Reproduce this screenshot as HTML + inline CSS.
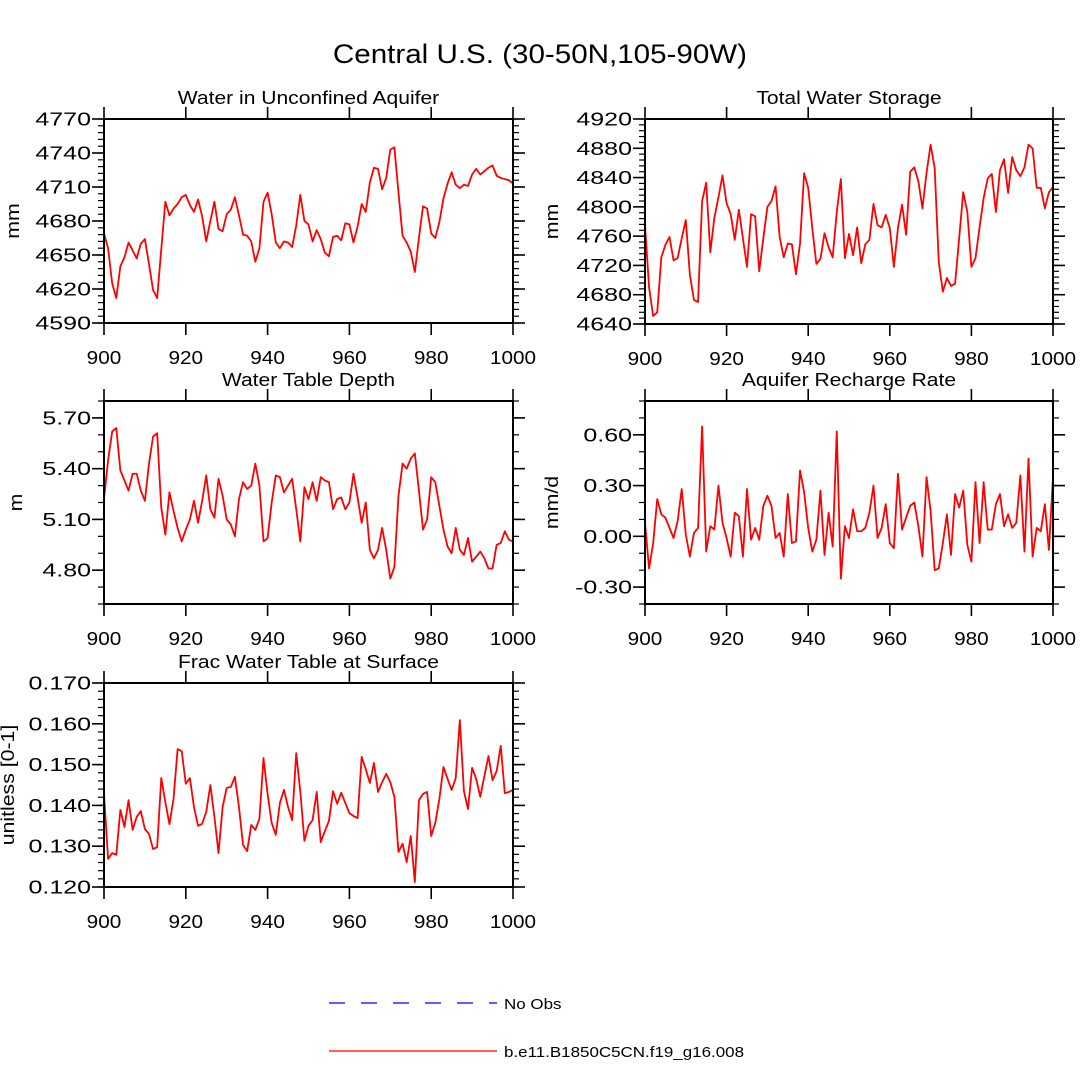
<!DOCTYPE html>
<html><head><meta charset="utf-8"><style>
html,body{margin:0;padding:0;background:#fff;}
svg{display:block;font-family:"Liberation Sans",sans-serif;}
</style></head><body>
<svg id="chart" width="1080" height="1082" viewBox="0 0 1080 1082" xmlns="http://www.w3.org/2000/svg">
<rect width="1080" height="1082" fill="#fff"/>
<text id="ftitle" x="540" y="63" font-size="27" text-anchor="middle">Central U.S. (30-50N,105-90W)</text>
<g id="panels"></g>
<g>
<line x1="329" y1="1003" x2="497" y2="1003" stroke="#0000ff" stroke-width="1.2" stroke-dasharray="16,16"/>
<text class="leg" x="504" y="1009" font-size="15">No Obs</text>
<line x1="329" y1="1051" x2="497" y2="1051" stroke="#ff0000" stroke-width="1.2"/>
<text class="leg" x="504" y="1057" font-size="15">b.e11.B1850C5CN.f19_g16.008</text>
</g>
</svg>
<script>
const years = [];
for (let y = 900; y <= 1000; y++) years.push(y);
const xTicks = [900, 920, 940, 960, 980, 1000];

const aquiferValues = [4669,4656,4625,4612,4640,4648,4661,4654,4647,4660,4664,4642,4619,4612,4655,4697,4685,4691,4695,4701,4703,4694,4688,4699,4684,4662,4680,4697,4673,4671,4686,4690,4701,4685,4668,4667,4662,4644,4656,4697,4705,4686,4661,4656,4662,4661,4657,4676,4703,4680,4677,4662,4672,4664,4652,4649,4666,4667,4663,4678,4677,4661,4675,4695,4688,4714,4727,4726,4708,4718,4743,4745,4705,4667,4661,4653,4635,4665,4693,4691,4669,4665,4679,4700,4713,4723,4712,4709,4712,4711,4721,4726,4721,4724,4727,4729,4720,4718,4717,4716,4713];
const aquiferTicks = [4590,4620,4650,4680,4710,4740,4770];

const storageValues = [4775,4690,4651,4656,4731,4748,4759,4727,4730,4757,4782,4707,4673,4670,4808,4833,4738,4785,4813,4843,4805,4790,4755,4796,4757,4718,4790,4787,4712,4757,4800,4808,4828,4759,4731,4750,4749,4708,4750,4846,4826,4771,4722,4729,4764,4745,4731,4793,4838,4730,4763,4734,4772,4723,4749,4755,4804,4775,4772,4789,4771,4718,4771,4803,4762,4848,4854,4835,4798,4846,4885,4853,4725,4684,4703,4692,4695,4757,4820,4793,4718,4730,4772,4812,4839,4845,4793,4850,4865,4819,4868,4850,4842,4854,4885,4880,4826,4826,4798,4820,4827];
const storageTicks = [4640,4680,4720,4760,4800,4840,4880,4920];

const depthValues = [5.22,5.45,5.62,5.64,5.39,5.33,5.27,5.37,5.37,5.27,5.21,5.43,5.59,5.61,5.17,5.01,5.26,5.15,5.05,4.97,5.04,5.10,5.21,5.08,5.21,5.36,5.16,5.11,5.34,5.24,5.10,5.07,5.00,5.22,5.32,5.28,5.30,5.43,5.30,4.97,4.99,5.20,5.36,5.35,5.26,5.30,5.34,5.16,4.97,5.29,5.22,5.32,5.21,5.35,5.33,5.32,5.16,5.22,5.23,5.16,5.20,5.37,5.23,5.08,5.20,4.92,4.87,4.92,5.05,4.92,4.75,4.82,5.24,5.43,5.40,5.46,5.49,5.27,5.04,5.10,5.35,5.32,5.18,5.04,4.94,4.90,5.05,4.92,4.89,4.99,4.85,4.88,4.91,4.87,4.81,4.81,4.95,4.96,5.03,4.98,4.97];
const depthTicks = [4.80,5.10,5.40,5.70];

const rechargeValues = [0.08,-0.19,-0.04,0.22,0.13,0.11,0.05,-0.01,0.09,0.28,0.01,-0.12,0.02,0.05,0.65,-0.09,0.06,0.04,0.30,0.08,-0.01,-0.12,0.14,0.12,-0.12,0.28,-0.02,0.05,-0.02,0.18,0.24,0.18,-0.01,0.02,-0.12,0.25,-0.04,-0.03,0.39,0.26,0.05,-0.09,-0.02,0.27,-0.11,0.14,-0.06,0.62,-0.25,0.06,-0.01,0.16,0.03,0.03,0.05,0.14,0.30,-0.01,0.05,0.19,-0.04,-0.07,0.37,0.04,0.11,0.18,0.20,0.06,-0.12,0.35,0.15,-0.20,-0.19,-0.04,0.13,-0.11,0.25,0.17,0.27,-0.05,-0.15,0.32,-0.04,0.32,0.04,0.04,0.19,0.25,0.06,0.13,0.05,0.08,0.36,-0.09,0.46,-0.12,0.05,0.03,0.19,-0.08,0.35];
const rechargeTicks = [-0.30,0.00,0.30,0.60];

const fracValues = [0.1428,0.1269,0.1283,0.1279,0.1389,0.1347,0.1413,0.1340,0.1372,0.1386,0.1342,0.1330,0.1293,0.1298,0.1467,0.1408,0.1354,0.1416,0.1538,0.1533,0.1453,0.1467,0.1396,0.1350,0.1355,0.1384,0.1450,0.1372,0.1283,0.1396,0.1443,0.1445,0.1470,0.1396,0.1303,0.1288,0.1352,0.1340,0.1367,0.1516,0.1428,0.1357,0.1328,0.1406,0.1438,0.1396,0.1364,0.1528,0.1433,0.1313,0.1350,0.1364,0.1433,0.1310,0.1337,0.1362,0.1435,0.1404,0.1431,0.1406,0.1381,0.1374,0.1369,0.1519,0.1489,0.1455,0.1504,0.1433,0.1457,0.1477,0.1457,0.1421,0.1286,0.1306,0.1261,0.1325,0.1212,0.1413,0.1428,0.1433,0.1325,0.1357,0.1416,0.1494,0.1465,0.1438,0.1467,0.1609,0.1435,0.1391,0.1492,0.1465,0.1421,0.1472,0.1521,0.1462,0.1484,0.1546,0.1430,0.1433,0.1438];
const fracTicks = [0.120,0.130,0.140,0.150,0.160,0.170];

const NS = "http://www.w3.org/2000/svg";
function mk(tag, attrs, parent) {
  const e = document.createElementNS(NS, tag);
  for (const k in attrs) e.setAttribute(k, attrs[k]);
  parent.appendChild(e);
  return e;
}
function stretch(el, f) {
  const w = el.getComputedTextLength();
  el.setAttribute('textLength', (w * f).toFixed(1));
  el.setAttribute('lengthAdjust', 'spacingAndGlyphs');
}

const panelSpecs = [
  {key:'aquifer', title:'Water in Unconfined Aquifer', ylab:'mm', vals:aquiferValues, ticks:aquiferTicks, dec:0, ymin:4590, ymax:4770, minor:6, x0:104, x1:513, y0:119, y1:323, ylx:13},
  {key:'storage', title:'Total Water Storage', ylab:'mm', vals:storageValues, ticks:storageTicks, dec:0, ymin:4640, ymax:4920, minor:8, x0:645, x1:1053, y0:119, y1:324, ylx:552},
  {key:'depth', title:'Water Table Depth', ylab:'m', vals:depthValues, ticks:depthTicks, dec:2, ymin:4.6, ymax:5.8, minor:0.1, x0:104, x1:513, y0:401, y1:604, ylx:16},
  {key:'recharge', title:'Aquifer Recharge Rate', ylab:'mm/d', vals:rechargeValues, ticks:rechargeTicks, dec:2, ymin:-0.4, ymax:0.8, minor:0.1, x0:645, x1:1053, y0:401, y1:604, ylx:552},
  {key:'frac', title:'Frac Water Table at Surface', ylab:'unitless [0-1]', vals:fracValues, ticks:fracTicks, dec:3, ymin:0.12, ymax:0.17, minor:0.002, x0:104, x1:513, y0:683, y1:887, ylx:8}
];

stretch(document.getElementById('ftitle'), 1.095);
document.querySelectorAll('.leg').forEach(e => stretch(e, 1.13));

const root = document.getElementById('panels');
panelSpecs.forEach(p => {
  const g = mk('g', {}, root);
  
  
  const xs = v => p.x0 + (v - 900) / 100 * (p.x1 - p.x0);
  const ys = v => p.y1 - (v - p.ymin) / (p.ymax - p.ymin) * (p.y1 - p.y0);

  const t = mk('text', {x:(p.x0+p.x1)/2, y:p.y0-15, 'font-size':18, 'text-anchor':'middle'}, g);
  t.textContent = p.title;
  
  
  stretch(t, 1.17);

  const nMin = Math.round((p.ymax - p.ymin) / p.minor);
  for (let i = 0; i <= nMin; i++) {
    const v = p.ymin + i * p.minor;
    const y = ys(v);
    const l1 = mk('line', {x1:p.x0-6, x2:p.x0, y1:y, y2:y, stroke:'#000', 'stroke-width':1.2}, g);
    
    
    const l2 = mk('line', {x1:p.x1, x2:p.x1+6, y1:y, y2:y, stroke:'#000', 'stroke-width':1.2}, g);
    
    
  }
  p.ticks.forEach(v => {
    const y = ys(v);
    const l1 = mk('line', {x1:p.x0-12, x2:p.x0, y1:y, y2:y, stroke:'#000', 'stroke-width':1.6}, g);
    
    
    const l2 = mk('line', {x1:p.x1, x2:p.x1+12, y1:y, y2:y, stroke:'#000', 'stroke-width':1.6}, g);
    
    
    const tx = mk('text', {x:p.x0-13, y:y+6.5, 'font-size':18.5, 'text-anchor':'end'}, g);
    tx.textContent = v.toFixed(p.dec);
    
    
    stretch(tx, 1.35);
  });
  xTicks.forEach(v => {
    const x = xs(v);
    const l1 = mk('line', {x1:x, x2:x, y1:p.y1, y2:p.y1+12, stroke:'#000', 'stroke-width':1.6}, g);
    
    
    const l2 = mk('line', {x1:x, x2:x, y1:p.y0-12, y2:p.y0, stroke:'#000', 'stroke-width':1.6}, g);
    
    
    const tx = mk('text', {x:x, y:p.y1+41, 'font-size':18.5, 'text-anchor':'middle'}, g);
    tx.textContent = String(v);
    
    
    stretch(tx, 1.12);
  });
  const cy = (p.y0 + p.y1) / 2;
  const yl = mk('text', {x:p.ylx, y:cy, 'font-size':18.5, 'text-anchor':'middle', transform:`rotate(-90 ${p.ylx} ${cy})`, dy:6}, g);
  yl.textContent = p.ylab;
  
  
  stretch(yl, 1.15);

  const pts = p.vals.map((v, i) => xs(years[i]).toFixed(2) + ',' + ys(v).toFixed(2)).join(' ');
  const pl = mk('polyline', {points:pts, fill:'none', stroke:'#ff0000', 'stroke-width':1.8, 'stroke-linejoin':'round'}, g);
  
  

  const fr = mk('rect', {x:p.x0, y:p.y0, width:p.x1-p.x0, height:p.y1-p.y0, fill:'none', stroke:'#000', 'stroke-width':2}, g);
  
  
});
</script>
</body></html>
